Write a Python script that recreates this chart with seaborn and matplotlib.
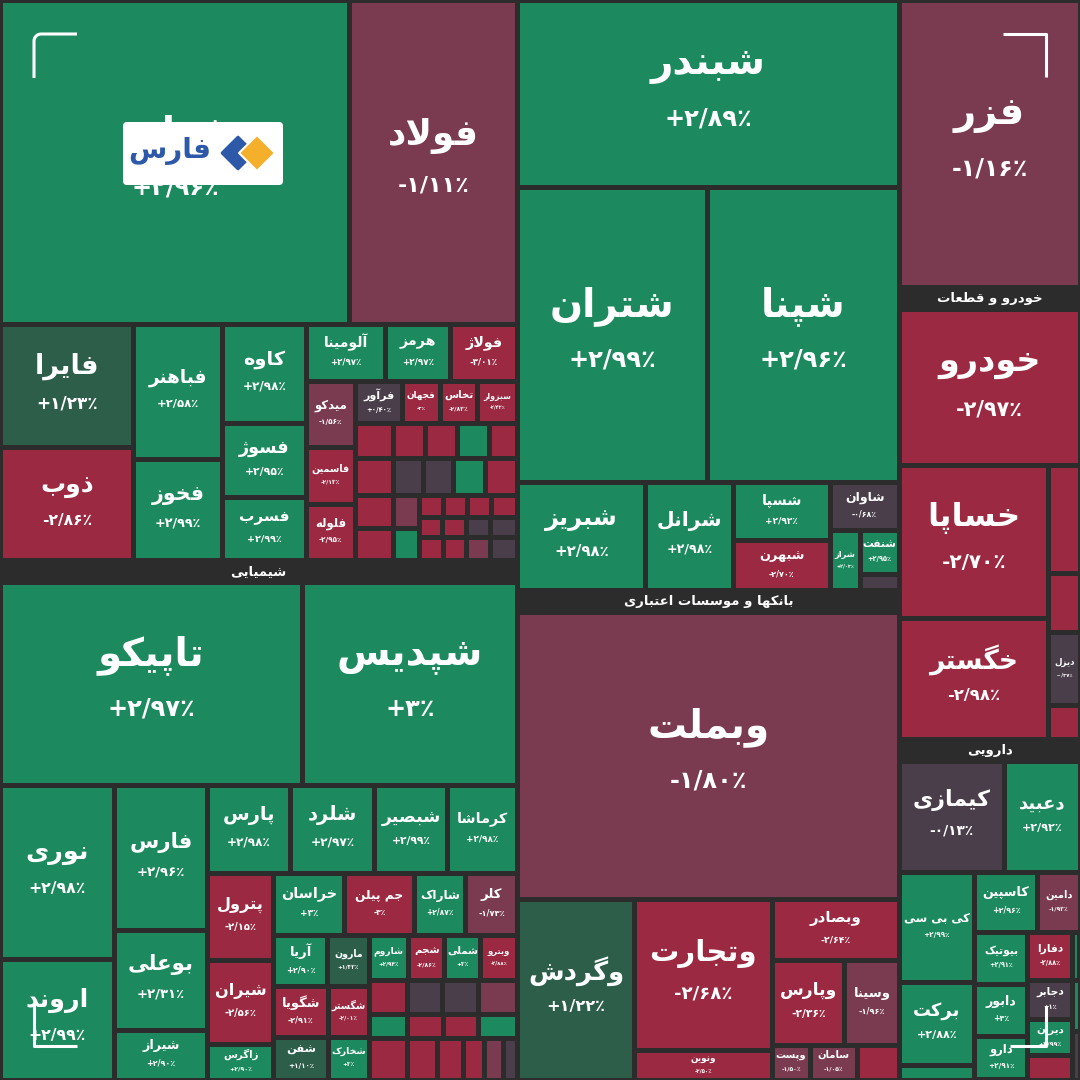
import numpy as np
import pandas as pd
import seaborn as sns
import matplotlib
matplotlib.use("Agg")
import matplotlib.pyplot as plt
from matplotlib.patches import Rectangle, FancyBboxPatch, Polygon

sns.set_theme(style="white")
plt.rcParams['font.family'] = ['DejaVu Sans']

# ---- data: ticker, daily change (%), visible size (market value units) ----
# '?' tickers are tiles too small to carry a label in the picture
metals_tickers = ['فملی', 'فولاد', 'فایرا', 'ذوب', 'فباهنر', 'فخوز', 'کاوه', 'فسوژ', 'فسرب',
                  'آلومینا', 'هرمز', 'فولاژ', 'میدکو', 'فاسمین', 'فلوله', 'فرآور', 'فجهان', 'تخاس', 'سبزوار',
                  '?m1', '?m2', '?m3', '?m4', '?m5', '?m6', '?m7', '?m8', '?m9', '?m10',
                  '?m11', '?m12', '?m13', '?m14', '?m15', '?m16', '?m17', '?m18',
                  '?m19', '?m20', '?m21', '?m22', '?m23', '?m24', '?m25', '?m26', 'فزر']
metals_change = [2.96, -1.11, 1.23, -2.86, 2.58, 2.99, 2.98, 2.95, 2.99,
                 2.97, 2.97, -3.01, -1.56, -2.13, -2.95, 0.40, -3, -2.83, -2.42,
                 -2.6, -2.7, -2.5, 2.9, -2.8, -2.6, -0.5, -0.4, 2.9, -2.4,
                 -2.7, -2.5, -1.5, 2.8, -2.6, -2.4, -2.9, -2.3,
                 -2.5, -2.2, -0.6, -0.8, -2.7, -2.5, -1.6, -0.3, -1.16]
metals_value = [1134, 543, 165, 150, 120, 90, 83, 62, 52,
                45, 37, 38, 32.6, 27.7, 27.4, 20, 16.4, 15.5, 17.2,
                13.1, 11.0, 11.0, 11.0, 9.8, 14.1, 11.1, 11.1, 11.8, 12.0,
                12.5, 12.2, 8.9, 8.6, 5.1, 5.3, 5.3, 5.8,
                4.6, 4.8, 4.8, 5.3, 5.3, 5.5, 5.5, 6.1, 520]

chem_tickers = ['تاپیکو', 'شپدیس', 'نوری', 'اروند', 'فارس', 'بوعلی', 'شیراز',
                'پارس', 'شلرد', 'شبصیر', 'کرماشا', 'پترول', 'شیران', 'زاگرس',
                'خراسان', 'جم پیلن', 'شاراک', 'کلر', 'آریا', 'مارون', 'شگویا', 'شگستر', 'شفن', 'شخارک',
                'شاروم', 'شجم', 'شملی', 'وبترو',
                '?c1', '?c2', '?c3', '?c4', '?c5', '?c6', '?c7', '?c8', '?c9', '?c10', '?c11', '?c12', '?c13', '?c14']
chem_change = [2.97, 3, 2.98, 2.99, 2.96, 2.31, 2.9,
               2.98, 2.97, 2.99, 2.98, -2.15, -2.56, 2.9,
               3, -3, 2.87, -1.73, 2.90, 1.33, -2.91, -2.01, 1.10, 3,
               2.94, -2.86, 3, -2.88,
               -2.6, 2.9, -2.5, -0.5, -0.4, -1.6, -2.7, -2.5, 2.8, -2.6, -2.4, -2.7, -1.5, -0.6]
chem_value = [614, 436, 199, 138, 135, 93, 46,
              73.5, 74.3, 64.6, 62, 57.5, 55.9, 23.6,
              43.4, 43, 31.4, 32, 27.8, 21.1, 27.3, 20.7, 23, 17.4,
              17.8, 16.4, 16, 16.7,
              12.9, 9.1, 15.8, 12.2, 12.2, 13.1, 8.6, 8.6, 9.2, 12.5, 10.8, 9.1, 7.5, 6.0]

refinery_tickers = ['شبندر', 'شتران', 'شپنا', 'شبریز', 'شرانل', 'شسپا', 'شبهرن', 'شاوان', 'شراز', 'شنفت', '?r1']
refinery_change = [2.89, 2.99, 2.96, 2.98, 2.98, 2.92, -2.70, -0.68, 2.03, 2.95, -0.5]
refinery_value = [715, 560.5, 565, 138, 95, 56, 48, 33, 18, 17.2, 6.2]

bank_tickers = ['وبملت', 'وگردش', 'وتجارت', 'ونوین', 'وبصادر', 'وپارس', 'وسینا', 'وپست', 'سامان', '?b1']
bank_change = [-1.80, 1.22, -2.68, -2.5, -2.64, -2.36, -1.96, -1.5, -1.05, -2.6]
bank_value = [1095, 211, 207.6, 40.6, 77.5, 61.3, 46, 13.3, 16.6, 14.5]

auto_tickers = ['خودرو', 'خساپا', 'خگستر', '?a1', '?a2', 'دیزل', '?a3']
auto_change = [-2.97, -2.70, -2.98, -2.8, -2.5, -0.37, -2.4]
auto_value = [282, 229.5, 180, 33.5, 18.3, 22.5, 10.4]

pharma_tickers = ['کیمازی', 'دعبید', 'کی بی سی', 'برکت', '?p1', 'کاسپین', 'دامین', 'بیوتیک', 'دابور', 'دارو',
                  'دفارا', '?p2', 'دجابر', 'دیران', '?p3', '?p4', '?p5']
pharma_change = [-0.13, 2.92, 2.99, 2.88, 2.9, 2.96, -1.93, 2.91, 3, 2.91,
                 -2.88, 2.9, 1, 2.99, -2.6, 2.9, -0.3]
pharma_value = [117, 84, 83, 62.7, 11, 37.8, 25.5, 27.6, 27.6, 23,
                21.8, 3.4, 17.7, 16.4, 11.1, 3.6, 3.4]

df = pd.DataFrame({
    'ticker': metals_tickers + chem_tickers + refinery_tickers + bank_tickers + auto_tickers + pharma_tickers,
    'change': metals_change + chem_change + refinery_change + bank_change + auto_change + pharma_change,
    'value': metals_value + chem_value + refinery_value + bank_value + auto_value + pharma_value,
}).set_index('ticker')

# ---- treemap structure: 'x' = side by side, 'y' = stacked, 's' = sector with header ----
metals = ('y', [
    ('x', ['فملی', 'فولاد']),
    ('x', [
        ('y', ['فایرا', 'ذوب']),
        ('y', ['فباهنر', 'فخوز']),
        ('y', ['کاوه', 'فسوژ', 'فسرب']),
        ('y', [
            ('x', ['آلومینا', 'هرمز', 'فولاژ']),
            ('x', [
                ('y', ['میدکو', 'فاسمین', 'فلوله']),
                ('y', [
                    ('x', ['فرآور', 'فجهان', 'تخاس', 'سبزوار']),
                    ('y', [
                        ('x', ['?m1', '?m2', '?m3', '?m4', '?m5']),
                        ('x', ['?m6', '?m7', '?m8', '?m9', '?m10']),
                        ('x', [('y', ['?m11', '?m12']), ('y', ['?m13', '?m14']),
                               ('y', [('x', ['?m15', '?m16', '?m17', '?m18']),
                                      ('x', ['?m19', '?m20', '?m21', '?m22']),
                                      ('x', ['?m23', '?m24', '?m25', '?m26'])])]),
                    ]),
                ]),
            ]),
        ]),
    ]),
])
chemicals = ('s', 'شیمیایی', ('y', [
    ('x', ['تاپیکو', 'شپدیس']),
    ('x', [
        ('y', ['نوری', 'اروند']),
        ('y', ['فارس', 'بوعلی', 'شیراز']),
        ('y', [
            ('x', ['پارس', 'شلرد', 'شبصیر', 'کرماشا']),
            ('x', [
                ('y', ['پترول', 'شیران', 'زاگرس']),
                ('y', [
                    ('x', ['خراسان', 'جم پیلن', 'شاراک', 'کلر']),
                    ('x', [
                        ('y', [('x', ['آریا', 'مارون']), ('x', ['شگویا', 'شگستر']), ('x', ['شفن', 'شخارک'])]),
                        ('y', [('x', ['شاروم', 'شجم', 'شملی', 'وبترو']),
                               ('x', [('y', ['?c1', '?c2', '?c3']),
                                      ('y', [('x', ['?c4', '?c5', '?c6']), ('x', ['?c7', '?c8', '?c9']),
                                             ('x', ['?c10', '?c11', '?c12', '?c13', '?c14'])])])]),
                    ]),
                ]),
            ]),
        ]),
    ]),
]))
refinery = ('y', [
    'شبندر',
    ('x', ['شتران', 'شپنا']),
    ('x', ['شبریز', 'شرانل', ('y', ['شسپا', 'شبهرن']),
           ('y', ['شاوان', ('x', ['شراز', ('y', ['شنفت', '?r1'])])])]),
])
banks = ('s', 'بانکها و موسسات اعتباری', ('y', [
    'وبملت',
    ('x', ['وگردش', ('y', ['وتجارت', 'ونوین']),
           ('y', ['وبصادر', ('x', ['وپارس', 'وسینا']), ('x', ['وپست', 'سامان', '?b1'])])]),
]))
autos = ('s', 'خودرو و قطعات', ('y', [
    'خودرو',
    ('x', [('y', ['خساپا', 'خگستر']), ('y', ['?a1', '?a2', 'دیزل', '?a3'])]),
]))
pharma = ('s', 'دارویی', ('y', [
    ('x', ['کیمازی', 'دعبید']),
    ('x', [
        ('y', ['کی بی سی', 'برکت', '?p1']),
        ('y', [
            ('x', ['کاسپین', 'دامین']),
            ('x', [('y', ['بیوتیک', 'دابور', 'دارو']),
                   ('y', [('x', ['دفارا', '?p2']),
                          ('x', [('y', ['دجابر', 'دیران', '?p3']), ('y', ['?p4', '?p5'])])])]),
        ]),
    ]),
]))
tree = ('x', [('y', [metals, chemicals]), ('y', [refinery, banks]), ('y', ['فزر', autos, pharma])])

HEADER_H = 22
GAP = 5


def node_value(n):
    if isinstance(n, str):
        return df.loc[n, 'value']
    if n[0] == 's':
        return node_value(n[2])
    return sum(node_value(k) for k in n[1])


def node_over(n):
    # fixed vertical space used by sector headers
    if isinstance(n, str):
        return 0.0
    if n[0] == 's':
        return HEADER_H + node_over(n[2])
    ov = [node_over(k) for k in n[1]]
    return sum(ov) if n[0] == 'y' else max(ov)


def place(n, x, y, w, h, tiles, heads):
    if isinstance(n, str):
        tiles.append((n, x, y, w, h))
        return
    if n[0] == 's':
        heads.append((n[1], x, y, w))
        place(n[2], x, y + HEADER_H, w, h - HEADER_H, tiles, heads)
        return
    kids = n[1]
    vals = [node_value(k) for k in kids]
    ovs = [node_over(k) for k in kids]
    if n[0] == 'y':
        free = h - sum(ovs)
        tot = sum(vals)
        for k, v, o in zip(kids, vals, ovs):
            hk = o + free * v / tot
            place(k, x, y, w, hk, tiles, heads)
            y += hk
    else:
        shares = [v / (h - o) for v, o in zip(vals, ovs)]
        s = sum(shares)
        for k, sh in zip(kids, shares):
            wk = w * sh / s
            place(k, x, y, wk, h, tiles, heads)
            x += wk


# ---- minimal Persian shaping (matplotlib has no complex text layout) ----
FORMS = {
    'ا': ('\uFE8D', '\uFE8E', None, None), 'آ': ('\uFE81', '\uFE82', None, None),
    'ب': ('\uFE8F', '\uFE90', '\uFE91', '\uFE92'), 'پ': ('\uFB56', '\uFB57', '\uFB58', '\uFB59'),
    'ت': ('\uFE95', '\uFE96', '\uFE97', '\uFE98'), 'ث': ('\uFE99', '\uFE9A', '\uFE9B', '\uFE9C'),
    'ج': ('\uFE9D', '\uFE9E', '\uFE9F', '\uFEA0'), 'چ': ('\uFB7A', '\uFB7B', '\uFB7C', '\uFB7D'),
    'ح': ('\uFEA1', '\uFEA2', '\uFEA3', '\uFEA4'), 'خ': ('\uFEA5', '\uFEA6', '\uFEA7', '\uFEA8'),
    'د': ('\uFEA9', '\uFEAA', None, None), 'ذ': ('\uFEAB', '\uFEAC', None, None),
    'ر': ('\uFEAD', '\uFEAE', None, None), 'ز': ('\uFEAF', '\uFEB0', None, None),
    'ژ': ('\uFB8A', '\uFB8B', None, None),
    'س': ('\uFEB1', '\uFEB2', '\uFEB3', '\uFEB4'), 'ش': ('\uFEB5', '\uFEB6', '\uFEB7', '\uFEB8'),
    'ص': ('\uFEB9', '\uFEBA', '\uFEBB', '\uFEBC'), 'ض': ('\uFEBD', '\uFEBE', '\uFEBF', '\uFEC0'),
    'ط': ('\uFEC1', '\uFEC2', '\uFEC3', '\uFEC4'), 'ظ': ('\uFEC5', '\uFEC6', '\uFEC7', '\uFEC8'),
    'ع': ('\uFEC9', '\uFECA', '\uFECB', '\uFECC'), 'غ': ('\uFECD', '\uFECE', '\uFECF', '\uFED0'),
    'ف': ('\uFED1', '\uFED2', '\uFED3', '\uFED4'), 'ق': ('\uFED5', '\uFED6', '\uFED7', '\uFED8'),
    'ک': ('\uFB8E', '\uFB8F', '\uFB90', '\uFB91'), 'گ': ('\uFB92', '\uFB93', '\uFB94', '\uFB95'),
    'ل': ('\uFEDD', '\uFEDE', '\uFEDF', '\uFEE0'), 'م': ('\uFEE1', '\uFEE2', '\uFEE3', '\uFEE4'),
    'ن': ('\uFEE5', '\uFEE6', '\uFEE7', '\uFEE8'), 'ه': ('\uFEE9', '\uFEEA', '\uFEEB', '\uFEEC'),
    'و': ('\uFEED', '\uFEEE', None, None), 'ی': ('\uFBFC', '\uFBFD', '\uFBFE', '\uFBFF'),
}
LAM_ALEF = {'ا': ('\uFEFB', '\uFEFC'), 'آ': ('\uFEF5', '\uFEF6')}


def fa(text):
    out = []
    i = 0
    while i < len(text):
        c = text[i]
        if c not in FORMS:
            out.append(c)
            i += 1
            continue
        prev = text[i - 1] if i > 0 else None
        prev_join = prev in FORMS and FORMS[prev][2] is not None
        nxt = text[i + 1] if i + 1 < len(text) else None
        if c == 'ل' and nxt in LAM_ALEF:
            out.append(LAM_ALEF[nxt][1 if prev_join else 0])
            i += 2
            continue
        iso, fin, ini, med = FORMS[c]
        next_join = ini is not None and nxt in FORMS
        if prev_join and next_join:
            out.append(med)
        elif prev_join:
            out.append(fin)
        elif next_join:
            out.append(ini)
        else:
            out.append(iso)
        i += 1
    return ''.join(reversed(out))


DIGITS = str.maketrans('0123456789.', '۰۱۲۳۴۵۶۷۸۹/')


def fmt_change(p):
    s = f'{abs(p):.0f}' if abs(p - round(p)) < 1e-9 else f'{abs(p):.2f}'
    sign = '+' if p > 0 else ('-' if p < 0 else '')
    return sign + s.translate(DIGITS) + '٪'


palette = sns.color_palette(['#1c8a5e', '#2c5e4a', '#4a3e4b', '#7a3a4f', '#9b2941'])


def tile_color(p):
    if p >= 2:
        return palette[0]
    if p > 1:
        return palette[1]
    if p >= -1:
        return palette[2]
    if p > -2:
        return palette[3]
    return palette[4]


tiles, heads = [], []
place(tree, 0, 0, 1080, 1080, tiles, heads)

BG = '#2c2c2c'
fig = plt.figure(figsize=(10.8, 10.8), dpi=100, facecolor=BG)
ax = fig.add_axes([0, 0, 1, 1])
ax.set_facecolor(BG)
ax.set_xlim(0, 1080)
ax.set_ylim(1080, 0)
ax.axis('off')

PX = 100 / 72  # pixels per point
for name, x, y, w, h in tiles:
    p = df.loc[name, 'change']
    ax.add_patch(Rectangle((x + GAP / 2, y + GAP / 2), w - GAP, h - GAP,
                           facecolor=tile_color(p), edgecolor='none', zorder=1))
    if name.startswith('?'):
        continue
    iw, ih = w - GAP, h - GAP
    if iw < 22 or ih < 22:
        continue
    label = fa(name)
    fs = min(28, 0.14 * min(iw, ih) + 3, 0.82 * iw / (0.62 * len(label) * PX))
    cx, cy = x + w / 2, y + h / 2
    if ih >= 2.5 * fs * PX:
        pfs = min(0.62 * fs, 0.85 * iw / (0.62 * 7 * PX))
        ax.text(cx, cy - 0.74 * fs * PX, label, ha='center', va='center', color='white',
                fontsize=fs, fontweight='bold', zorder=3)
        ax.text(cx, cy + 0.64 * fs * PX, fmt_change(p), ha='center', va='center', color='white',
                fontsize=pfs, fontweight='bold', zorder=3)
    else:
        ax.text(cx, cy, label, ha='center', va='center', color='white',
                fontsize=fs, fontweight='bold', zorder=3)

for label, x, y, w in heads:
    ax.text(x + w / 2, y + HEADER_H / 2, fa(label), ha='center', va='center', color='white',
            fontsize=9.5, fontweight='bold', zorder=3)

# news agency logo
ax.add_patch(FancyBboxPatch((123, 122), 160, 63, boxstyle='round,pad=0,rounding_size=4',
                            facecolor='white', edgecolor='none', zorder=5))
ax.add_patch(Polygon([(222, 153), (238, 137), (254, 153), (238, 169)], closed=True,
                     facecolor='#2e59a8', edgecolor='#2e59a8', lw=2, joinstyle='round', zorder=6))
ax.add_patch(Polygon([(239, 153), (257, 135), (275, 153), (257, 171)], closed=True,
                     facecolor='#f4b02a', edgecolor='white', lw=1.5, joinstyle='round', zorder=7))
ax.text(170, 151, fa('فارس'), ha='center', va='center', color='#2e59a8',
        fontsize=20, fontweight='bold', zorder=7)

# corner frame marks
t = np.linspace(np.pi, 1.5 * np.pi, 8)
r = 7
ax.plot(np.r_[34, 34 + r + r * np.cos(t), 77], np.r_[78, 34 + r + r * np.sin(t), 34],
        color='white', lw=2.2, zorder=8, solid_capstyle='butt')
ax.plot([1003, 1046, 1046], [34, 34, 77], color='white', lw=2.2, zorder=8, solid_capstyle='butt')
ax.plot([34, 34, 77], [1003, 1046, 1046], color='white', lw=2.2, zorder=8, solid_capstyle='butt')
ax.plot([1010, 1046, 1046], [1046, 1046, 1006], color='white', lw=2.2, zorder=8, solid_capstyle='butt')

fig.savefig('out.png', dpi=100, facecolor=BG)
